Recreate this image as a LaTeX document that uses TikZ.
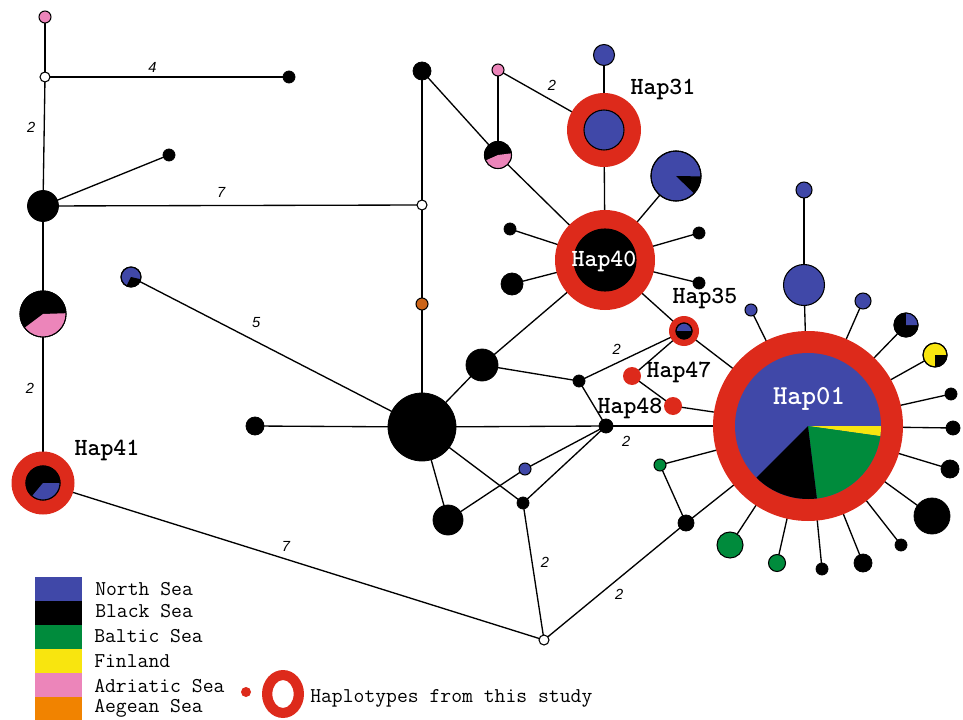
\documentclass[tikz,border=0pt]{standalone}
\usepackage{fontspec}
\newfontfamily\sansf{Liberation Sans}
\usetikzlibrary{backgrounds}
\definecolor{nsea}{HTML}{4048A8}
\definecolor{hred}{HTML}{DD2A1B}
\definecolor{bgreen}{HTML}{008B3C}
\definecolor{fyel}{HTML}{F8E50F}
\definecolor{apink}{HTML}{EC85BA}
\definecolor{aorange}{HTML}{F18300}
\definecolor{onode}{HTML}{CC6418}
\newcommand\pieslice[6]{\fill[#6] (#1,#2) -- ++(#4:{0.75pt*#3}) arc[start angle=#4, end angle=#5, radius={0.75pt*#3}] -- cycle;}
\newcommand\pierim[3]{\draw[line width=0.8pt] (#1,#2) circle[radius={0.75pt*#3}];}
\tikzset{
  conn/.style={line width=1pt, black},
  bdot/.style={circle, fill=black, draw=black, line width=0.6pt, inner sep=0pt, minimum size={1.5pt*#1}},
  cdot/.style 2 args={circle, fill=#2, draw=black, line width=0.8pt, inner sep=0pt, minimum size={1.5pt*#1}},
  rdot/.style={circle, fill=hred, inner sep=0pt, minimum size={1.5pt*#1}},
  fdot/.style 2 args={circle, fill=#2, inner sep=0pt, minimum size={1.5pt*#1}},
  haplab/.style={font=\ttfamily\bfseries\fontsize{18.5}{18.5}\selectfont, inner sep=0pt},
  elab/.style={font=\sansf\itshape\fontsize{11}{11}\selectfont, inner sep=0pt},
  legtext/.style={font=\ttfamily\fontsize{15.8}{15.8}\selectfont, anchor=west, inner sep=0pt},
  legbox/.style={fill=#1, inner sep=0pt, minimum width=35.25pt, minimum height=18pt},
}
\begin{document}
\begin{tikzpicture}[x=0.75pt,y=-0.75pt]
\useasboundingbox (0,0) rectangle (963,720);

% ---------- left part ----------
\node[cdot={6}{apink}] (pA) at (45,17) {};
\node[cdot={5}{white}] (wA) at (45,77) {};
\node[bdot=6] (bA) at (289,77) {};
\node[bdot=15.5] (bB) at (43,206) {};
\node[bdot=6] (bC) at (169,155) {};
\node[cdot={5}{white}] (wB) at (422,205) {};
\node[cdot={23}{black}] (pieA) at (43,314) {};
\pieslice{43}{314}{23}{-143}{2}{apink}
\pierim{43}{314}{23}
\node[rdot=31.5] (h41) at (43,483) {};
\node[cdot={17}{black}] (h41i) at (43,483) {};
\pieslice{43}{483}{17}{-130}{0}{nsea}
\pierim{43}{483}{17}
\node[haplab] (t41) at (107,450) {Hap41};
\node[cdot={10}{nsea}] (pieB) at (131,277) {};
\pieslice{131}{277}{10}{-117}{-13}{black}
\pierim{131}{277}{10}
\node[bdot=34] (bBig) at (422,427) {};
\node[bdot=9] (bD) at (255,426) {};
\node[bdot=9] (bTop) at (422,71) {};
\node[cdot={6}{onode}] (oA) at (422,304) {};

% ---------- Hap31 / Hap40 ----------
\node[cdot={13.5}{black}] (pieC) at (498,155) {};
\pieslice{498}{155}{13.5}{-156}{7}{apink}
\pierim{498}{155}{13.5}
\node[cdot={6}{apink}] (pB) at (498,70) {};
\node[rdot=37] (h31) at (604,130) {};
\node[cdot={20}{nsea}] (h31i) at (604,130) {};
\node[haplab] (t31) at (663,89) {Hap31};
\node[cdot={10.5}{nsea}] (blA) at (604,55) {};
\node[rdot=50] (h40) at (605,260) {};
\node[cdot={31}{black}] (h40i) at (605,260) {};
\node[haplab, text=white] (t40) at (604,261) {Hap40};
\node[cdot={25}{nsea}] (pieD) at (676,176) {};
\pieslice{676}{176}{25}{-44}{-1}{black}
\pierim{676}{176}{25}
\node[bdot=6] (bE) at (510,229) {};
\node[bdot=11] (bF) at (512,284) {};
\node[bdot=6] (bG) at (699,233) {};
\node[bdot=6] (bH) at (699,283) {};
\node[bdot=16] (bI) at (482,365) {};

% ---------- Hap35, 47, 48 ----------
\node[rdot=15] (h35) at (684,331) {};
\node[cdot={8}{nsea}] (h35i) at (684,331) {};
\pieslice{684}{331}{8}{-180}{0}{black}
\pierim{684}{331}{8}
\node[haplab] (t35) at (705,298) {Hap35};
\node[bdot=6] (bJ) at (579,381) {};
\node[fdot={9}{hred}] (h47) at (632,376) {};
\node[haplab] (t47) at (679,372) {Hap47};
\node[fdot={9}{hred}] (h48) at (673,406) {};
\node[haplab] (t48) at (630,408) {Hap48};
\node[bdot=7] (bK) at (606,426) {};
\node[bdot=15] (bL) at (448,520) {};
\node[bdot=6] (bM) at (523,503) {};
\node[cdot={6}{nsea}] (blB) at (525,469) {};
\node[cdot={5}{white}] (wC) at (544,640) {};
\node[bdot=8] (bN) at (686,523) {};
\node[cdot={6}{bgreen}] (gA) at (660,465) {};

% ---------- Hap01 ----------
\node[rdot=95] (h01) at (808,426) {};
\node[fdot={73}{nsea}] (h01i) at (808,426) {};
\pieslice{808}{426}{73}{-8}{0}{fyel}
\pieslice{808}{426}{73}{-83}{-8}{bgreen}
\pieslice{808}{426}{73}{-135}{-83}{black}
\node[haplab, text=white, font=\ttfamily\bfseries\fontsize{20.5}{20.5}\selectfont] (t01) at (809,399) {Hap01};
\node[cdot={8}{nsea}] (blC) at (804,190) {};
\node[cdot={20.5}{nsea}] (blD) at (804,285) {};
\node[cdot={6}{nsea}] (blE) at (751,310) {};
\node[cdot={8}{nsea}] (blF) at (863,301) {};
\node[cdot={12}{black}] (pieE) at (906,325) {};
\pieslice{906}{325}{12}{0}{90}{nsea}
\pierim{906}{325}{12}
\node[cdot={12}{fyel}] (pieF) at (935,355) {};
\pieslice{935}{355}{12}{-90}{0}{black}
\pierim{935}{355}{12}
\node[bdot=6] (s1) at (951,394) {};
\node[bdot=7] (s2) at (953,428) {};
\node[bdot=9] (s3) at (950,469) {};
\node[bdot=18] (s4) at (932,516) {};
\node[bdot=6] (s5) at (901,545) {};
\node[bdot=9] (s6) at (863,563) {};
\node[bdot=6] (s7) at (822,569) {};
\node[cdot={8.5}{bgreen}] (gB) at (777,563) {};
\node[cdot={13}{bgreen}] (gC) at (730,545) {};

% ---------- connectors ----------
\begin{scope}[on background layer]
\draw[conn] (wA.center) -- (pA.center);
\draw[conn] (wA.center) -- node[elab, pos=0.44, shift={(0,-10)}] {4} (bA.center);
\draw[conn] (wA.center) -- node[elab, pos=0.39, shift={(-13,0)}] {2} (bB.center);
\draw[conn] (bB.center) -- (bC.center);
\draw[conn] (bB.center) -- node[elab, pos=0.47, shift={(0,-13)}] {7} (wB.center);
\draw[conn] (bB.center) -- (pieA.center);
\draw[conn] (pieA.center) -- node[elab, pos=0.44, shift={(-13,0)}] {2} (h41.center);
\draw[conn] (h41.center) -- node[elab, pos=0.485, shift={(0,-13)}] {7} (wC.center);
\draw[conn] (pieB.center) -- node[elab, pos=0.43, shift={(0,-19)}] {5} (bBig.center);
\draw[conn] (bD.center) -- (bBig.center);
\draw[conn] (wB.center) -- (bTop.center);
\draw[conn] (wB.center) -- (oA.center);
\draw[conn] (oA.center) -- (bBig.center);
\draw[conn] (bTop.center) -- (pieC.center);
\draw[conn] (pB.center) -- (pieC.center);
\draw[conn] (pieC.center) -- (h40.center);
\draw[conn] (pB.center) -- node[elab, pos=0.51, shift={(0,-15)}] {2} (h31.center);
\draw[conn] (blA.center) -- (h31.center);
\draw[conn] (h31.center) -- (h40.center);
\draw[conn] (h40.center) -- (pieD.center);
\draw[conn] (h40.center) -- (bE.center);
\draw[conn] (h40.center) -- (bF.center);
\draw[conn] (h40.center) -- (bG.center);
\draw[conn] (h40.center) -- (bH.center);
\draw[conn] (h40.center) -- (bI.center);
\draw[conn] (h40.center) -- (h35.center);
\draw[conn] (bBig.center) -- (bI.center);
\draw[conn] (bI.center) -- (bJ.center);
\draw[conn] (h35.center) -- node[elab, pos=0.64, shift={(0,-14)}] {2} (bJ.center);
\draw[conn] (bJ.center) -- (bK.center);
\draw[conn] (h35.center) -- (h47.center);
\draw[conn] (h47.center) -- (h48.center);
\draw[conn] (h48.center) -- (h01.center);
\draw[conn] (h35.center) -- (h01.center);
\draw[conn] (bBig.center) -- (bK.center);
\draw[conn] (bK.center) -- node[elab, pos=0.10, shift={(0,15)}] {2} (h01.center);
\draw[conn] (bBig.center) -- (bL.center);
\draw[conn] (bBig.center) -- (bM.center);
\draw[conn] (bL.center) -- (blB.center);
\draw[conn] (blB.center) -- (bK.center);
\draw[conn] (bM.center) -- (bK.center);
\draw[conn] (bM.center) -- node[elab, pos=0.43, shift={(13,0)}] {2} (wC.center);
\draw[conn] (wC.center) -- node[elab, pos=0.53, shift={(0,16)}] {2} (bN.center);
\draw[conn] (bN.center) -- (h01.center);
\draw[conn] (bN.center) -- (gA.center);
\draw[conn] (gA.center) -- (h01.center);
\draw[conn] (blC.center) -- (blD.center);
\foreach \s in {blD,blE,blF,pieE,pieF,s1,s2,s3,s4,s5,s6,s7,gB,gC}
  \draw[conn] (\s.center) -- (h01.center);
\end{scope}

% ---------- legend ----------
\node[legbox=nsea] (kN) at (58.5,589) {};
\node[legbox=black] (kB) at (58.5,613) {};
\node[legbox=bgreen] (kG) at (58.5,637) {};
\node[legbox=fyel] (kF) at (58.5,661) {};
\node[legbox=apink] (kA) at (58.5,685) {};
\node[legbox=aorange] (kE) at (58.5,709) {};
\node[legtext] (lN) at (95,589) {North Sea};
\node[legtext] (lB) at (95,611) {Black Sea};
\node[legtext] (lG) at (94,636) {Baltic Sea};
\node[legtext] (lF) at (94,661) {Finland};
\node[legtext] (lA) at (94,686) {Adriatic Sea};
\node[legtext] (lE) at (94,708) {Aegean Sea};
\node[fdot={5}{hred}] (kdot) at (246,692) {};
\fill[hred, even odd rule] (283,694) ellipse[x radius=15.75pt, y radius=18pt] (283,694) ellipse[x radius=8pt, y radius=10.5pt];
\node[legtext] (lH) at (310,698) {Haplotypes from this study};
\end{tikzpicture}
\end{document}
